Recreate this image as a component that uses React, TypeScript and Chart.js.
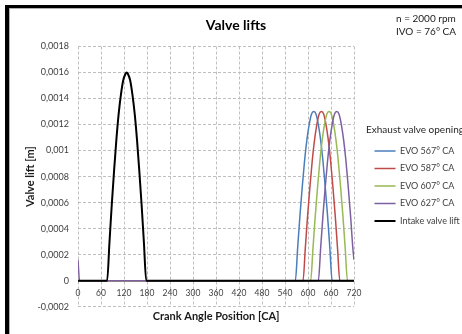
import React, { useEffect, useRef } from 'react';
import { Chart, registerables } from 'chart.js';

Chart.register(...registerables);

// ---- data ----
const chartTitle = 'Valve lifts';
const xTitle = 'Crank Angle Position [CA]';
const yTitle = 'Valve lift [m]';
const legendTitle = 'Exhaust valve opening';
const noteLines = ['n = 2000 rpm', 'IVO = 76° CA'];

const xMin = 0;
const xMax = 720;
const xStep = 60;
const yMin = -0.0002;
const yMax = 0.0018;
const yStep = 0.0002;

const seriesNames = ['EVO 567° CA', 'EVO 587° CA', 'EVO 607° CA', 'EVO 627° CA', 'Intake valve lift'];
const seriesColors = ['#4A7EBB', '#BE4B48', '#98B954', '#7D60A0', '#000000'];

const evo567Angle = [0, 567, 573, 579, 585, 591, 597, 603, 609, 615, 621, 627, 633, 639, 645, 651, 657, 663, 720];
const evo567Lift = [0, 0, 0.00025, 0.0005, 0.00072, 0.00092, 0.00108, 0.0012, 0.00128, 0.0013, 0.00128, 0.0012, 0.00108, 0.00092, 0.00072, 0.0005, 0.00025, 0, 0];

const evo587Angle = [0, 587, 593, 599, 605, 611, 617, 623, 629, 635, 641, 647, 653, 659, 665, 671, 677, 683, 720];
const evo587Lift = [0, 0, 0.00025, 0.0005, 0.00072, 0.00092, 0.00108, 0.0012, 0.00128, 0.0013, 0.00128, 0.0012, 0.00108, 0.00092, 0.00072, 0.0005, 0.00025, 0, 0];

const evo607Angle = [0, 607, 613, 619, 625, 631, 637, 643, 649, 655, 661, 667, 673, 679, 685, 691, 697, 703, 720];
const evo607Lift = [0, 0, 0.00025, 0.0005, 0.00072, 0.00092, 0.00108, 0.0012, 0.00128, 0.0013, 0.00128, 0.0012, 0.00108, 0.00092, 0.00072, 0.0005, 0.00025, 0, 0];

const evo627Angle = [0, 4, 627, 633, 639, 645, 651, 657, 663, 669, 675, 681, 687, 693, 699, 705, 711, 717, 720];
const evo627Lift = [0.00016, 0, 0, 0.00025, 0.0005, 0.00072, 0.00092, 0.00108, 0.0012, 0.00128, 0.0013, 0.00128, 0.0012, 0.00108, 0.00092, 0.00072, 0.0005, 0.00025, 0.00016];

const intakeAngle = [0, 76, 82, 88, 94, 100, 106, 112, 118, 124, 127, 130, 136, 142, 148, 154, 160, 166, 172, 178, 720];
const intakeLift = [0, 0, 0.00029, 0.00058, 0.00084, 0.00108, 0.00128, 0.00143, 0.00154, 0.00159, 0.0016, 0.00159, 0.00154, 0.00143, 0.00128, 0.00108, 0.00084, 0.00058, 0.00029, 0, 0];

const seriesAngles = [evo567Angle, evo587Angle, evo607Angle, evo627Angle, intakeAngle];
const seriesLifts = [evo567Lift, evo587Lift, evo607Lift, evo627Lift, intakeLift];

const FONT = 'Lato';

const notesPlugin = {
  id: 'notes',
  afterDraw(chart: any) {
    const ctx = chart.ctx;
    ctx.save();
    ctx.font = `10px ${FONT}`;
    ctx.fillStyle = '#1a1a1a';
    ctx.textAlign = 'left';
    ctx.textBaseline = 'middle';
    noteLines.forEach((t, i) => ctx.fillText(t, 396, 19 + i * 13));
    ctx.restore();
  },
};

export default function App() {
  const ref = useRef<HTMLCanvasElement | null>(null);

  useEffect(() => {
    if (!ref.current) return;
    const datasets = seriesNames.map((name, i) => ({
      label: name,
      data: seriesAngles[i].map((a, j) => ({ x: a, y: seriesLifts[i][j] })),
      borderColor: seriesColors[i],
      backgroundColor: seriesColors[i],
      borderWidth: i === 4 ? 2 : 1.5,
      pointRadius: 0,
      pointHoverRadius: 0,
      fill: false,
      cubicInterpolationMode: 'monotone' as const,
      order: 5 - i,
    }));

    const chart = new Chart(ref.current, {
      type: 'line',
      data: { datasets },
      plugins: [notesPlugin],
      options: {
        animation: false,
        responsive: false,
        maintainAspectRatio: false,
        layout: { padding: { left: 10, top: 10, right: 0, bottom: 27.3 } },
        plugins: {
          tooltip: { enabled: false },
          title: {
            display: true,
            text: chartTitle,
            color: '#000',
            font: { family: FONT, size: 14, weight: 'bold' },
            padding: { top: 6.8, bottom: 12.9 },
          },
          legend: {
            display: true,
            position: 'right',
            align: 'center',
            maxWidth: 96,
            title: {
              display: true,
              text: legendTitle,
              position: 'start',
              color: '#262626',
              font: { family: FONT, size: 10 },
              padding: { top: 42, bottom: 1.3 },
            },
            labels: {
              usePointStyle: true,
              pointStyle: 'line',
              pointStyleWidth: 21,
              padding: 8.5,
              color: '#404040',
              font: { family: FONT, size: 9, lineHeight: 1 },
              sort: (a: any, b: any) => a.datasetIndex - b.datasetIndex,
            },
          },
        },
        scales: {
          x: {
            type: 'linear',
            position: { y: 0 } as any,
            min: xMin,
            max: xMax,
            grid: { color: '#bfbfbf', drawTicks: false, lineWidth: 1 },
            border: { display: false, dash: [3, 2] },
            ticks: {
              stepSize: xStep,
              autoSkip: false,
              maxRotation: 0,
              padding: 7.2,
              color: '#404040',
              font: { family: FONT, size: 8.5 },
            },
            title: {
              display: true,
              text: xTitle,
              color: '#1a1a1a',
              font: { family: FONT, size: 11, weight: 'bold' },
              padding: { top: 0, bottom: 0 },
            },
            afterFit: (s: any) => {
              s.height = 41.9;
            },
          },
          y: {
            type: 'linear',
            position: 'left',
            min: yMin,
            max: yMax,
            grid: { color: '#bfbfbf', drawTicks: false, lineWidth: 1 },
            border: { display: false, dash: [3, 2] },
            ticks: {
              stepSize: yStep,
              padding: 9,
              color: '#404040',
              font: { family: FONT, size: 9 },
              callback: (v: any) => String(Math.round(Number(v) * 1e4) / 1e4).replace('.', ','),
            },
            title: {
              display: true,
              text: yTitle,
              color: '#1a1a1a',
              font: { family: FONT, size: 11, weight: 'bold' },
              padding: { top: 13.4, bottom: 0 },
            },
            afterFit: (s: any) => {
              s.width = 68;
            },
          },
          gap: {
            type: 'linear',
            position: 'right',
            display: true,
            grid: { display: false, drawTicks: false },
            border: { display: false },
            ticks: { display: false },
            afterFit: (s: any) => {
              s.width = 12;
            },
          },
        },
      } as any,
    });
    return () => chart.destroy();
  }, []);

  return (
    <div style={{ position: 'fixed', left: 0, top: 0, width: 462, height: 334, overflow: 'hidden', background: '#fff' }}>
      <canvas ref={ref} width={462} height={334} style={{ position: 'absolute', left: 0, top: 0, width: 462, height: 334 }} />
      <div style={{ position: 'absolute', left: 5, top: 5, width: 4, height: 340, background: '#000' }} />
      <div style={{ position: 'absolute', left: 5, top: 5, width: 470, height: 3, background: '#000' }} />
      <div style={{ position: 'absolute', left: 9, top: 8, width: 1, height: 340, background: '#b0b0b0' }} />
      <div style={{ position: 'absolute', left: 9, top: 8, width: 470, height: 1, background: '#b0b0b0' }} />
    </div>
  );
}
